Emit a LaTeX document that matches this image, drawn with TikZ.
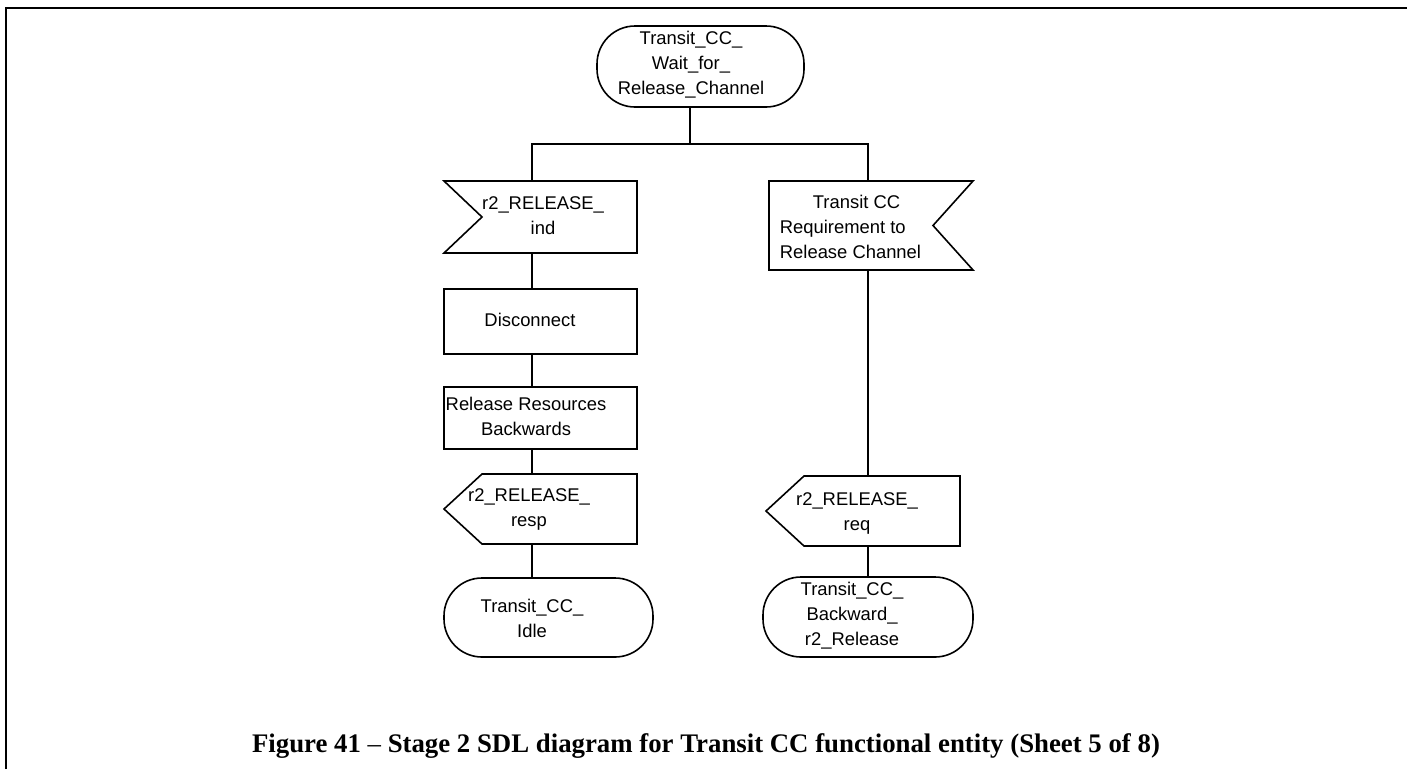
\documentclass[tikz,border=0pt]{standalone}
\usepackage{fontspec}
\setmainfont{Liberation Serif}
\newfontfamily\sdlfont{Liberation Sans}
\tikzset{
  sdl/.style     = {line width=1.6pt},
  symb/.style    = {inner sep=0pt, outer sep=0pt},
  task/.style    = {symb, draw, sdl},
  state/.style   = {symb, draw, sdl, rounded corners=38pt},
  txt/.style     = {inner sep=0pt, align=center,
                    font=\sdlfont\fontsize{18.4}{25}\selectfont},
  caption/.style = {inner sep=0pt, font=\bfseries\fontsize{26.8}{30}\selectfont}
}
\begin{document}
\begin{tikzpicture}[x=1pt,y=-1pt]
  \useasboundingbox (0,0) rectangle (1407,769);
  % ---- frame ----
  \draw[line width=2.8pt] (6,769) -- (6,8) -- (1407,8);
  % ---- start state ----
  \node[state, minimum width=207pt, minimum height=81pt] (wait) at (700.5,66.5) {};
  \node[txt] (wait-t) at (691,65) {Transit\_CC\_\\Wait\_for\_\\Release\_Channel};
  \coordinate (busm) at (690,144);
  \coordinate (busl) at (532,144);
  \coordinate (busr) at (868,144);
  % ---- left branch ----
  \node[symb, minimum width=193pt, minimum height=72pt] (relind) at (540.5,217) {};
  \draw[sdl] (relind.north west) -- (relind.north east) -- (relind.south east)
    -- (relind.south west) -- ([xshift=38pt]relind.west) -- cycle;
  \node[txt] (relind-t) at (543,216) {r2\_RELEASE\_\\ind};
  \node[task, minimum width=193pt, minimum height=65pt] (disc) at (540.5,321.5) {};
  \node[txt] (disc-t) at (530,320) {Disconnect};
  \node[task, minimum width=193pt, minimum height=62pt] (relres) at (540.5,418) {};
  \node[txt] (relres-t) at (526,416) {Release Resources\\Backwards};
  \node[symb, minimum width=193pt, minimum height=70pt] (resp) at (540.5,509) {};
  \draw[sdl] ([xshift=38pt]resp.north west) -- (resp.north east) -- (resp.south east)
    -- ([xshift=38pt]resp.south west) -- (resp.west) -- cycle;
  \node[txt] (resp-t) at (529,509) {r2\_RELEASE\_\\resp};
  \node[state, minimum width=209pt, minimum height=79pt] (idle) at (548.5,617.5) {};
  \node[txt] (idle-t) at (532,618) {Transit\_CC\_\\Idle};
  % ---- right branch ----
  \node[symb, minimum width=204pt, minimum height=89pt] (reqrel) at (871,225.5) {};
  \draw[sdl] (reqrel.north east) -- (reqrel.north west) -- (reqrel.south west)
    -- (reqrel.south east) -- ([xshift=-40pt]reqrel.east) -- cycle;
  \node[txt, align=left] (reqrel-t) at (850.5,227)
    {\hspace*{33pt}Transit CC\\Requirement to\\Release Channel};
  \node[symb, minimum width=194pt, minimum height=70pt] (req) at (863,511) {};
  \draw[sdl] ([xshift=38pt]req.north west) -- (req.north east) -- (req.south east)
    -- ([xshift=38pt]req.south west) -- (req.west) -- cycle;
  \node[txt] (req-t) at (857,513) {r2\_RELEASE\_\\req};
  \node[state, minimum width=210pt, minimum height=80pt] (backrel) at (868,617) {};
  \node[txt] (backrel-t) at (852,616) {Transit\_CC\_\\Backward\_\\r2\_Release};
  % ---- flow lines ----
  \draw[sdl] (busm |- wait.south) -- (busm);
  \draw[sdl] (busl |- relind.north) -- (busl) -- (busr) -- (busr |- reqrel.north);
  \draw[sdl] (busl |- relind.south) -- (busl |- disc.north);
  \draw[sdl] (busl |- disc.south) -- (busl |- relres.north);
  \draw[sdl] (busl |- relres.south) -- (busl |- resp.north);
  \draw[sdl] (busl |- resp.south) -- (busl |- idle.north);
  \draw[sdl] (busr |- reqrel.south) -- (busr |- req.north);
  \draw[sdl] (busr |- req.south) -- (backrel.north);
  % ---- caption ----
  \node[caption, anchor=base] (cap) at (706,752)
    {Figure 41 {\mdseries\textendash} Stage 2 SDL diagram for Transit CC functional entity (Sheet 5 of 8)};
\end{tikzpicture}
\end{document}
